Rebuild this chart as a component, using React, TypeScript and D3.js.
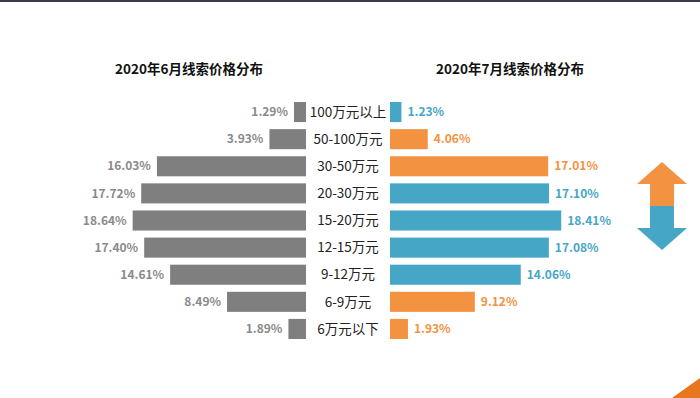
import React, { useEffect, useRef } from 'react';
import * as d3 from 'd3';

const categories = ['100万元以上', '50-100万元', '30-50万元', '20-30万元', '15-20万元', '12-15万元', '9-12万元', '6-9万元', '6万元以下'];
const juneValues = [1.29, 3.93, 16.03, 17.72, 18.64, 17.4, 14.61, 8.49, 1.89];
const julyValues = [1.23, 4.06, 17.01, 17.1, 18.41, 17.08, 14.06, 9.12, 1.93];
const titles = ['2020年6月线索价格分布', '2020年7月线索价格分布'];

const GRAY = '#7f7f7f';
const BLUE = '#45a6c6';
const ORANGE = '#f39241';
const FONT = '"Noto Sans CJK SC", "Noto Sans", sans-serif';

const App: React.FC = () => {
    const svgRef = useRef<SVGSVGElement>(null);
    const width = 700;
    const height = 398;

    useEffect(() => {
        if (!svgRef.current) return;
        const svg = d3.select(svgRef.current);
        svg.selectAll('*').remove();

        const leftEdge = 306; // right end of June bars
        const rightEdge = 390; // left start of July bars
        const midX = (leftEdge + rightEdge) / 2;

        const x = d3.scaleLinear().domain([0, 20]).range([0, 186]);
        const y = d3.scaleBand<string>()
            .domain(categories)
            .range([98.5, 342.5])
            .paddingInner(0.26)
            .paddingOuter(0.13);

        const rows = categories.map((c, i) => ({ cat: c, june: juneValues[i], july: julyValues[i] }));
        const julyColor = (d: { june: number; july: number }) => (d.july > d.june ? ORANGE : BLUE);

        // top dark strip
        svg.append('rect').attr('x', 0).attr('y', 0).attr('width', width).attr('height', 2).attr('fill', '#3b3b48');

        // titles
        svg.selectAll('text.title')
            .data(titles)
            .enter()
            .append('text')
            .attr('class', 'title')
            .attr('x', (_, i) => (i === 0 ? 189 : 510))
            .attr('y', 74)
            .attr('text-anchor', 'middle')
            .style('font-family', FONT)
            .style('font-size', '13.5px')
            .style('font-weight', 'bold')
            .style('fill', '#111')
            .text(d => d);

        // June bars (left)
        svg.selectAll('rect.june')
            .data(rows)
            .enter()
            .append('rect')
            .attr('class', 'june')
            .attr('x', d => leftEdge - x(d.june))
            .attr('y', d => y(d.cat)!)
            .attr('width', d => x(d.june))
            .attr('height', y.bandwidth())
            .attr('fill', GRAY);

        svg.selectAll('text.juneLabel')
            .data(rows)
            .enter()
            .append('text')
            .attr('class', 'juneLabel')
            .attr('x', d => leftEdge - x(d.june) - 6)
            .attr('y', d => y(d.cat)! + y.bandwidth() / 2)
            .attr('dy', '0.35em')
            .attr('text-anchor', 'end')
            .style('font-family', FONT)
            .style('font-size', '12px')
            .style('font-weight', 'bold')
            .style('fill', '#8a8a8a')
            .text(d => d.june.toFixed(2) + '%');

        // July bars (right)
        svg.selectAll('rect.july')
            .data(rows)
            .enter()
            .append('rect')
            .attr('class', 'july')
            .attr('x', rightEdge)
            .attr('y', d => y(d.cat)!)
            .attr('width', d => x(d.july))
            .attr('height', y.bandwidth())
            .attr('fill', d => julyColor(d));

        svg.selectAll('text.julyLabel')
            .data(rows)
            .enter()
            .append('text')
            .attr('class', 'julyLabel')
            .attr('x', d => rightEdge + x(d.july) + 6)
            .attr('y', d => y(d.cat)! + y.bandwidth() / 2)
            .attr('dy', '0.35em')
            .style('font-family', FONT)
            .style('font-size', '12px')
            .style('font-weight', 'bold')
            .style('fill', d => julyColor(d))
            .text(d => d.july.toFixed(2) + '%');

        // category labels
        svg.selectAll('text.cat')
            .data(rows)
            .enter()
            .append('text')
            .attr('class', 'cat')
            .attr('x', midX)
            .attr('y', d => y(d.cat)! + y.bandwidth() / 2)
            .attr('dy', '0.35em')
            .attr('text-anchor', 'middle')
            .style('font-family', FONT)
            .style('font-size', '13.5px')
            .style('fill', '#222')
            .text(d => d.cat);

        // up/down arrow on the right
        const ax = 662;
        const up = [[ax, 162], [ax + 25, 184], [ax + 12, 184], [ax + 12, 206], [ax - 12, 206], [ax - 12, 184], [ax - 25, 184]];
        const down = [[ax - 12, 206], [ax + 12, 206], [ax + 12, 228], [ax + 25, 228], [ax, 250], [ax - 25, 228], [ax - 12, 228]];
        const line = d3.line();
        svg.append('path').attr('d', line(up as [number, number][]) + 'Z').attr('fill', ORANGE);
        svg.append('path').attr('d', line(down as [number, number][]) + 'Z').attr('fill', BLUE);

        // corner decoration
        svg.append('path')
            .attr('d', line([[672, 398], [700, 378], [700, 398]]) + 'Z')
            .attr('fill', '#e8761f');
    }, []);

    return (
        <div style={{ position: 'absolute', left: 0, top: 0 }}>
            <svg ref={svgRef} width={width} height={height} style={{ display: 'block', background: '#fff' }} />
        </div>
    );
};

export default App;
